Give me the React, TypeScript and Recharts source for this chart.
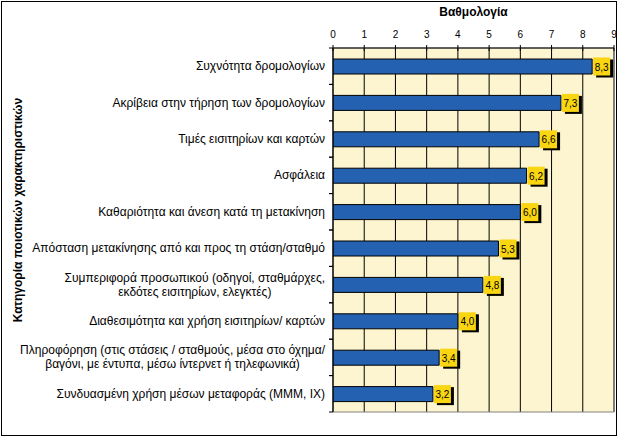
import { BarChart, Bar, XAxis, YAxis, CartesianGrid, ReferenceArea, LabelList, Label } from 'recharts'

const categories = [
  'Συχνότητα δρομολογίων',
  'Ακρίβεια στην τήρηση των δρομολογίων',
  'Τιμές εισιτηρίων και καρτών',
  'Ασφάλεια',
  'Καθαριότητα και άνεση κατά τη μετακίνηση',
  'Απόσταση μετακίνησης από και προς τη στάση/σταθμό',
  'Συμπεριφορά προσωπικού (οδηγοί, σταθμάρχες,\nεκδότες εισιτηρίων, ελεγκτές)',
  'Διαθεσιμότητα και χρήση εισιτηρίων/ καρτών',
  'Πληροφόρηση (στις στάσεις / σταθμούς, μέσα στο όχημα/\nβαγόνι, με έντυπα, μέσω ίντερνετ ή τηλεφωνικά)',
  'Συνδυασμένη χρήση μέσων μεταφοράς (ΜΜΜ, ΙΧ)',
]
const scores = [8.3, 7.3, 6.6, 6.2, 6.0, 5.3, 4.8, 4.0, 3.4, 3.2]
const xTicks = [0, 1, 2, 3, 4, 5, 6, 7, 8, 9]

const data = categories.map((name, i) => ({ name, score: scores[i] }))

const FONT = '"Liberation Sans", Arial, sans-serif'
const HALF_BAND = 18.2

let ctx: CanvasRenderingContext2D | null = null
const measure = (s: string) => {
  if (!ctx) {
    ctx = document.createElement('canvas').getContext('2d')
    if (ctx) ctx.font = `12px ${FONT}`
  }
  return ctx ? ctx.measureText(s).width : s.length * 6
}

const CategoryTick = ({ x, y, payload }: any) => {
  const lines: string[] = String(payload.value).split('\n')
  const maxW = Math.max(...lines.map(measure))
  const axisX = x + 8
  const top = y - (lines.length - 1) * 7
  return (
    <g>
      <line x1={axisX - 4} x2={axisX} y1={y - HALF_BAND} y2={y - HALF_BAND} stroke="#000" />
      <line x1={axisX - 4} x2={axisX} y1={y + HALF_BAND} y2={y + HALF_BAND} stroke="#000" />
      {lines.map((l, i) => (
        <text
          key={i}
          x={lines.length > 1 ? x - maxW / 2 : x}
          y={top + i * 14 + 4}
          textAnchor={lines.length > 1 ? 'middle' : 'end'}
          fontSize={12}
          fontFamily={FONT}
          fill="#000"
        >
          {l}
        </text>
      ))}
    </g>
  )
}

// y handed to a top-axis tick sits tickSize + tickMargin above the axis line
const ScoreTick = ({ x, y, payload }: any) => {
  const axisY = y + 8
  return (
    <g>
      <line x1={x} x2={x} y1={axisY - 3} y2={axisY + 3} stroke="#000" />
      <text x={x} y={axisY - 10} textAnchor="middle" fontSize={10} fontFamily={FONT} fill="#000">
        {payload.value}
      </text>
    </g>
  )
}

const ValueBox = ({ x, y, width, height, value }: any) => {
  const bx = x + width + 1
  const cy = y + height / 2
  return (
    <g>
      <rect x={bx + 3} y={cy - 7} width={17} height={18} fill="#000" />
      <rect x={bx} y={cy - 9} width={17} height={18} fill="#f9d512" />
      <text x={bx + 8.5} y={cy + 4} textAnchor="middle" fontSize={10} fontFamily={FONT} fill="#000">
        {Number(value).toFixed(1).replace('.', ',')}
      </text>
    </g>
  )
}

export default function App() {
  return (
    <div style={{ position: 'absolute', left: 0, top: 0, width: 619, height: 438, background: '#fff' }}>
      <div
        style={{
          position: 'absolute',
          left: 1,
          top: 1,
          width: 614,
          height: 433,
          border: '1px solid #000',
        }}
      />
      <BarChart
        width={619}
        height={438}
        data={data}
        layout="vertical"
        margin={{ top: 18, right: 5, bottom: 26, left: 0 }}
      >
        <CartesianGrid
          horizontal={false}
          vertical
          stroke="#000"
          strokeOpacity={1}
          fill="#fdf5cf"
          fillOpacity={1}
        />
        <ReferenceArea x1={0} x2={9} fill="none" stroke="#808080" strokeWidth={1} />
        <XAxis
          type="number"
          orientation="top"
          domain={[0, 9]}
          ticks={xTicks}
          interval={0}
          height={30}
          axisLine={{ stroke: '#000' }}
          tickLine={false}
          tickSize={6}
          tickMargin={2}
          tick={<ScoreTick />}
          allowDataOverflow
        >
          <Label
            content={() => (
              <text x={473.5} y={16} textAnchor="middle" fontSize={12} fontWeight="bold" fontFamily={FONT} fill="#000">
                Βαθμολογία
              </text>
            )}
          />
        </XAxis>
        <YAxis
          type="category"
          dataKey="name"
          width={333}
          axisLine={{ stroke: '#000' }}
          tickLine={false}
          tickSize={6}
          tickMargin={2}
          interval={0}
          tick={<CategoryTick />}
        >
          <Label
            content={() => (
              <text
                x={22}
                y={210}
                transform="rotate(-90 22 210)"
                textAnchor="middle"
                fontSize={12}
                fontWeight="bold"
                fontFamily={FONT}
                fill="#000"
              >
                Κατηγορία ποιοτικών χαρακτηριστικών
              </text>
            )}
          />
        </YAxis>
        <Bar dataKey="score" fill="#2461b1" stroke="#000" strokeWidth={1} barSize={15} isAnimationActive={false}>
          <LabelList dataKey="score" content={<ValueBox />} />
        </Bar>
      </BarChart>
    </div>
  )
}
